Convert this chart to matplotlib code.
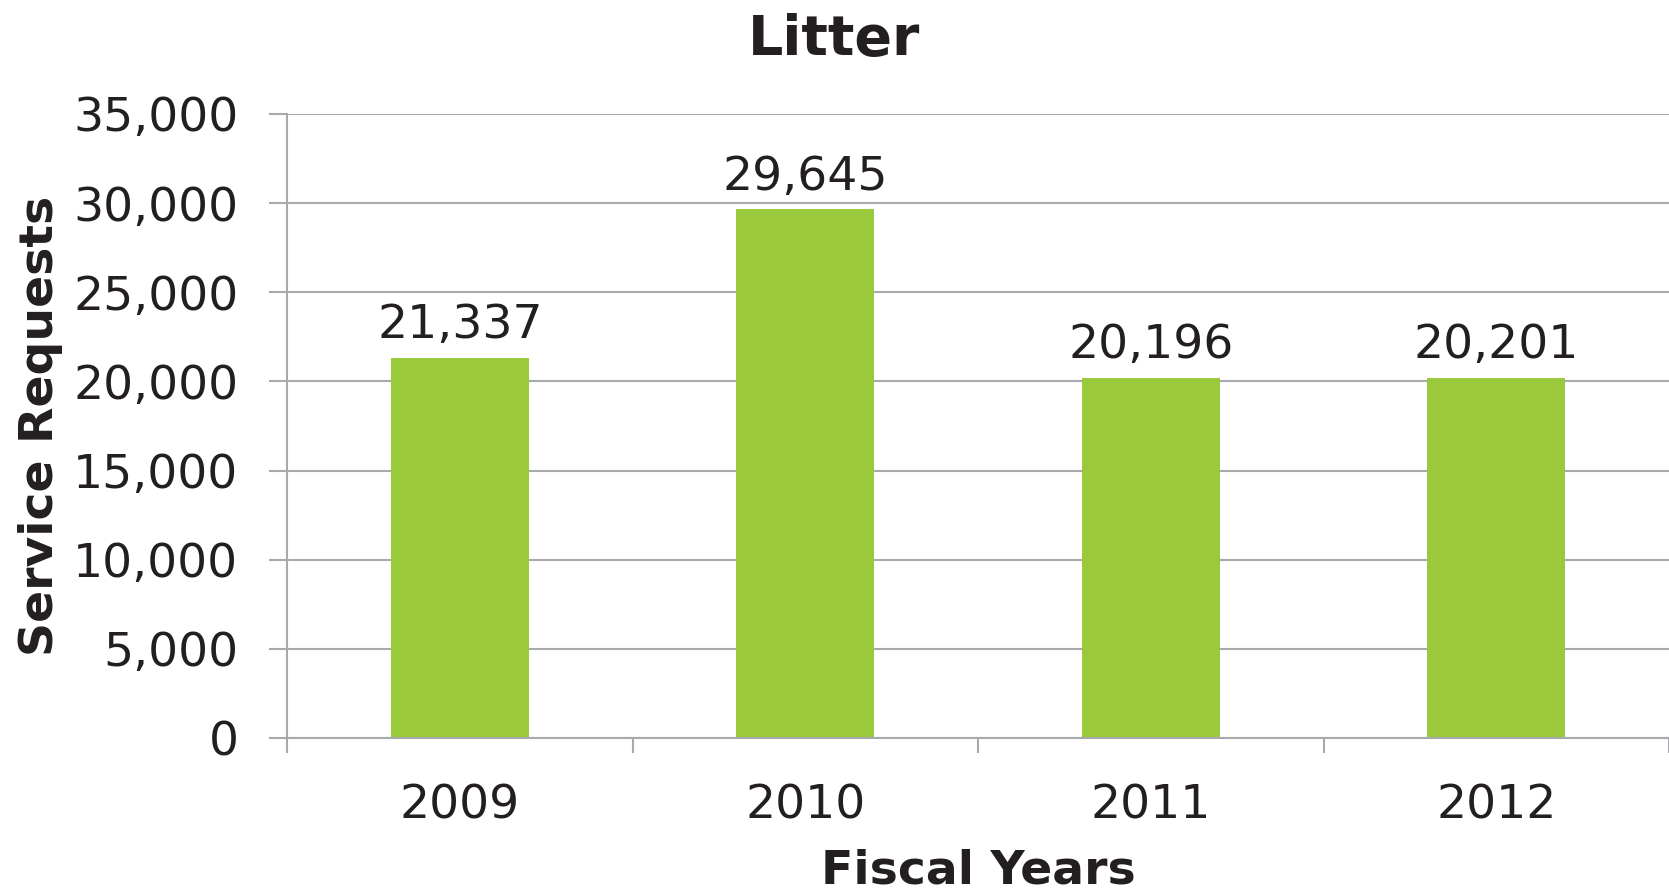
import matplotlib
matplotlib.use("Agg")
import matplotlib.pyplot as plt
from matplotlib.ticker import FuncFormatter, FixedLocator

YEARS = ["2009", "2010", "2011", "2012"]
REQUESTS = [21337, 29645, 20196, 20201]
Y_TICKS = [0, 5000, 10000, 15000, 20000, 25000, 30000, 35000]

BAR_COLOR = "#9ACA3C"
GRID_COLOR = "#A7A9AC"
TEXT_COLOR = "#231F20"

plt.rcParams["font.family"] = ["DejaVu Sans"]
plt.rcParams["text.color"] = TEXT_COLOR


def thousands(value, pos=None):
    return f"{int(value):,}"


def plot_litter():
    fig = plt.figure(figsize=(16.69, 8.91), dpi=100)
    ax = fig.add_axes([287 / 1669, 1 - 738 / 891, 1382 / 1669, 624 / 891])

    x = range(len(YEARS))
    bars = ax.bar(x, REQUESTS, width=0.4, color=BAR_COLOR, zorder=3)

    for bar, value in zip(bars, REQUESTS):
        ax.annotate(thousands(value),
                    xy=(bar.get_x() + bar.get_width() / 2, bar.get_height()),
                    xytext=(0, 14), textcoords="offset points",
                    ha="center", va="baseline", fontsize=34, color=TEXT_COLOR)

    ax.set_xlim(-0.5, len(YEARS) - 0.5)
    ax.set_ylim(0, 35000)
    ax.set_yticks(Y_TICKS)
    ax.yaxis.set_major_formatter(FuncFormatter(thousands))
    ax.grid(axis="y", color=GRID_COLOR, linewidth=1.5, zorder=0)

    ax.set_xticks(list(x))
    ax.set_xticklabels(YEARS)
    ax.xaxis.set_minor_locator(FixedLocator([i - 0.5 for i in range(len(YEARS) + 1)]))
    ax.tick_params(axis="x", which="major", length=0, pad=33, labelsize=34, labelcolor=TEXT_COLOR)
    ax.tick_params(axis="x", which="minor", length=11, width=1.5, color=GRID_COLOR)
    ax.tick_params(axis="y", length=13, width=1.5, color=GRID_COLOR, pad=22,
                   labelsize=34, labelcolor=TEXT_COLOR)

    for side in ("top", "right"):
        ax.spines[side].set_visible(False)
    for side in ("left", "bottom"):
        ax.spines[side].set_color(GRID_COLOR)
        ax.spines[side].set_linewidth(1.5)
        ax.spines[side].set_zorder(4)

    ax.set_xlabel("Fiscal Years", fontsize=34, fontweight="bold", color=TEXT_COLOR, va="baseline")
    ax.xaxis.set_label_coords(0.5, (738 - 883) / 624)
    ax.set_ylabel("Service Requests", fontsize=34, fontweight="bold", color=TEXT_COLOR, va="baseline")
    ax.yaxis.set_label_coords((53 - 287) / 1382, 0.5)

    fig.text(0.5, 1 - 55 / 891, "Litter", ha="center", va="baseline",
             fontsize=40, fontweight="bold", color=TEXT_COLOR)

    fig.savefig("out.png", dpi=100)


if __name__ == "__main__":
    plot_litter()
